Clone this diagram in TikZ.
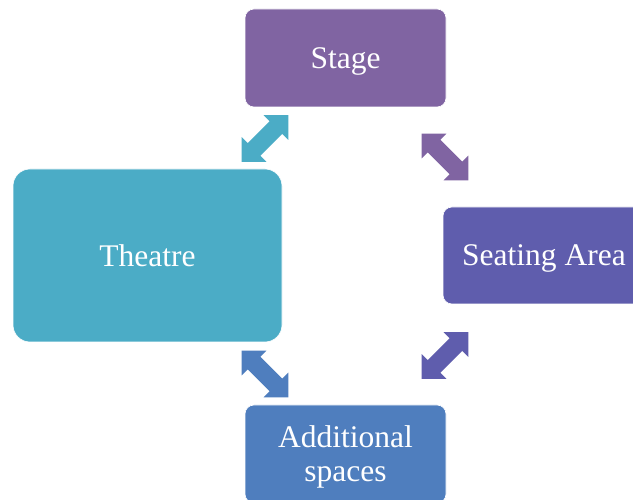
\documentclass[tikz,border=0pt]{standalone}
\usepackage{fontspec}
\setmainfont{Liberation Serif}
\definecolor{cTeal}{HTML}{4BACC6}
\definecolor{cPurple}{HTML}{8064A2}
\definecolor{cIndigo}{HTML}{5F5DAD}
\definecolor{cBlue}{HTML}{4F7EBE}
\tikzset{
  box/.style={rectangle, draw=white, line width=0.6pt, inner sep=0pt,
    text=white, font=\fontsize{31.5}{34}\selectfont, align=center,
    text depth=0pt},
  % double-headed block arrow, centred on the origin, lying along x
  pics/dblarrow/.style={code={
    \fill[#1] (-33,0) -- (-15.5,17.5) -- (-15.5,9) -- (15.5,9) -- (15.5,17.5)
      -- (33,0) -- (15.5,-17.5) -- (15.5,-9) -- (-15.5,-9) -- (-15.5,-17.5) -- cycle;
  }}
}
\begin{document}
\begin{tikzpicture}[x=1pt,y=1pt]
\clip (0,0) rectangle (633,499);
\fill[white] (0,0) rectangle (633,499);

\node[box, fill=cTeal, minimum width=269pt, minimum height=173pt,
  rounded corners=17pt] (theatre) at (147.5,243.5) {Theatre};
\node[box, fill=cPurple, minimum width=201pt, minimum height=98pt,
  rounded corners=9pt] (stage) at (345.5,441) {Stage};
\node[box, fill=cIndigo, minimum width=202pt, minimum height=97pt,
  rounded corners=9pt] (seating) at (544,243.5) {Seating Area};
\node[box, fill=cBlue, minimum width=201pt, minimum height=98pt,
  rounded corners=9pt] (extra) at (345.5,45) {Additional\\spaces};

\pic[rotate=45]  at (265,360.5) {dblarrow=cTeal};
\pic[rotate=-45] at (445,342)   {dblarrow=cPurple};
\pic[rotate=45]  at (445,143.5) {dblarrow=cIndigo};
\pic[rotate=-45] at (265,125)   {dblarrow=cBlue};
\end{tikzpicture}
\end{document}
